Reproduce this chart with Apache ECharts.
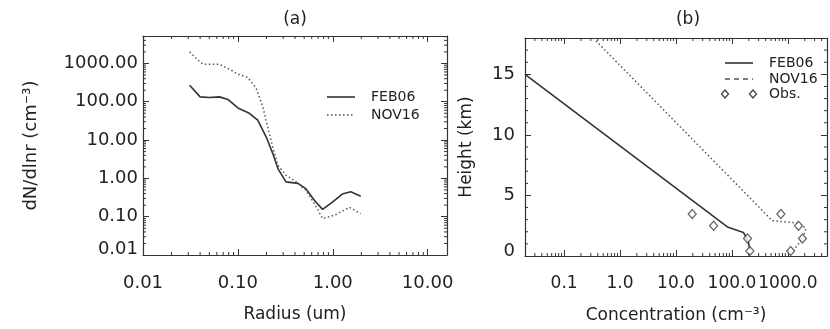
<!DOCTYPE html>
<html><head><meta charset="utf-8">
<script src="https://cdn.jsdelivr.net/npm/echarts@6/dist/echarts.min.js"></script>
<style>html,body{margin:0;padding:0;background:#fff}#c{width:830px;height:329px}</style>
</head><body><div id="c"></div>
<script>
// ---- Panel (a): size distribution ----
const radiusFeb = [0.031,0.040,0.050,0.064,0.0785,0.10,0.132,0.162,0.199,0.233,0.264,0.322,0.43,0.52,0.64,0.78,1.0,1.26,1.55,1.97];
const dndlnrFeb = [270,134,129,134,115,69,50,33,12,4.5,1.8,0.81,0.74,0.54,0.27,0.155,0.245,0.39,0.45,0.34];
const radiusNov = [0.031,0.038,0.043,0.064,0.085,0.10,0.127,0.156,0.183,0.206,0.233,0.264,0.322,0.39,0.52,0.64,0.78,1.05,1.5,1.97];
const dndlnrNov = [2000,1220,950,950,670,525,430,225,74,22,6.6,2.2,1.2,0.9,0.49,0.22,0.089,0.11,0.175,0.12];
// ---- Panel (b): vertical profiles ----
const concFeb = [0.02, 83, 160, 195, 209];
const heightFeb = [15, 2.4, 1.95, 1.25, 0.5];
const concNov = [0.33, 525, 1510, 2100, 1830, 1320, 1120];
const heightNov = [18, 2.92, 2.72, 2.28, 1.4, 0.6, 0.28];
const obsConcFeb = [19.5, 47, 190, 209];
const obsHeightFeb = [3.47, 2.5, 1.45, 0.42];
const obsConcNov = [750, 1550, 1820, 1120];
const obsHeightNov = [3.47, 2.5, 1.45, 0.42];
// ---- Axis labels ----
const xLabelA = 'Radius (um)';
const yLabelA = 'dN/dlnr (cm\u207B\u00B3)';
const xLabelB = 'Concentration (cm\u207B\u00B3)';
const yLabelB = 'Height (km)';
const seriesNames = ['FEB06', 'NOV16', 'Obs.'];

const FONT = 'DejaVu Sans';
const INK = '#333';
const zip = (a, b) => a.map((v, i) => [v, b[i]]);
const isDecade = v => Math.abs(Math.log10(v) - Math.round(Math.log10(v))) < 1e-6;

function logMinor(lo, hi) {
  const out = [];
  for (let e = Math.floor(Math.log10(lo)); e <= Math.ceil(Math.log10(hi)); e++) {
    for (let m = 2; m <= 9; m++) { const v = m * Math.pow(10, e); if (v > lo && v < hi) out.push(v); }
  }
  return out;
}
const A = {xmin: 0.01, xmax: 16, ymin: 0.01, ymax: 5200};
const B = {xmin: 0.02, xmax: 5000, ymin: 0, ymax: 18};

function xTicks(xi, yi, yLo, yHi, vals, len) {
  return {
    type: 'custom', xAxisIndex: xi, yAxisIndex: yi, silent: true, z: 5,
    data: vals.map(v => [v, yLo]), encode: {x: 0, y: 1},
    renderItem: (p, api) => {
      const b = api.coord([api.value(0), yLo]);
      const t = api.coord([api.value(0), yHi]);
      return {type: 'group', children: [
        {type: 'line', shape: {x1: b[0], y1: b[1], x2: b[0], y2: b[1] - len}, style: {stroke: INK, lineWidth: 1}},
        {type: 'line', shape: {x1: t[0], y1: t[1], x2: t[0], y2: t[1] + len}, style: {stroke: INK, lineWidth: 1}}
      ]};
    }
  };
}
function yTicks(xi, yi, xLo, xHi, vals, len) {
  return {
    type: 'custom', xAxisIndex: xi, yAxisIndex: yi, silent: true, z: 5,
    data: vals.map(v => [xLo, v]), encode: {x: 0, y: 1},
    renderItem: (p, api) => {
      const l = api.coord([xLo, api.value(1)]);
      const r = api.coord([xHi, api.value(1)]);
      return {type: 'group', children: [
        {type: 'line', shape: {x1: l[0], y1: l[1], x2: l[0] + len, y2: l[1]}, style: {stroke: INK, lineWidth: 1}},
        {type: 'line', shape: {x1: r[0], y1: r[1], x2: r[0] - len, y2: r[1]}, style: {stroke: INK, lineWidth: 1}}
      ]};
    }
  };
}

const axisLine = {show: true, onZero: false, lineStyle: {color: INK, width: 1.2}};
const tickIn = {show: true, inside: true, length: 6, lineStyle: {color: INK, width: 1}};
const lbl = {color: '#222', fontFamily: FONT, fontSize: 18};
const lblB = {color: '#222', fontFamily: FONT, fontSize: 17};
const nameStyle = {color: '#222', fontFamily: FONT, fontSize: 17};

const option = {
  animation: false,
  backgroundColor: '#fff',
  grid: [
    {left: 143, top: 36, width: 304, height: 219},
    {left: 525, top: 38, width: 314, height: 219}
  ],
  xAxis: [
    {gridIndex: 0, type: 'log', min: A.xmin, max: A.xmax, position: 'bottom',
     axisLine, axisTick: tickIn, splitLine: {show: false},
     axisLabel: Object.assign({margin: 19, formatter: v => isDecade(v) ? v.toFixed(2) : ''}, lbl),
     name: xLabelA, nameLocation: 'middle', nameGap: 51, nameTextStyle: nameStyle},
    {gridIndex: 0, type: 'log', min: A.xmin, max: A.xmax, position: 'top',
     axisLine, axisTick: tickIn, axisLabel: {show: false}, splitLine: {show: false}},
    {gridIndex: 1, type: 'log', min: B.xmin, max: B.xmax, position: 'bottom',
     axisLine, axisTick: tickIn, splitLine: {show: false},
     axisLabel: Object.assign({margin: 19, formatter: v => isDecade(v) ? v.toFixed(1) : ''}, lblB),
     name: xLabelB, nameLocation: 'middle', nameGap: 51, nameTextStyle: nameStyle},
    {gridIndex: 1, type: 'log', min: B.xmin, max: B.xmax, position: 'top',
     axisLine, axisTick: tickIn, axisLabel: {show: false}, splitLine: {show: false}}
  ],
  yAxis: [
    {gridIndex: 0, type: 'log', min: A.ymin, max: A.ymax, position: 'left',
     axisLine, axisTick: tickIn, splitLine: {show: false},
     axisLabel: Object.assign({margin: 5, formatter: v => isDecade(v) ? (Math.abs(v - 0.01) < 1e-9 ? '{lo|0.01}' : v.toFixed(2)) : '',
       rich: {lo: {fontFamily: FONT, fontSize: 18, color: '#222', padding: [0, 0, 12, 0]}}}, lbl),
     name: yLabelA, nameLocation: 'middle', nameGap: 103, nameTextStyle: Object.assign({}, nameStyle, {fontSize: 18})},
    {gridIndex: 0, type: 'log', min: A.ymin, max: A.ymax, position: 'right',
     axisLine, axisTick: tickIn, axisLabel: {show: false}, splitLine: {show: false}},
    {gridIndex: 1, type: 'value', min: B.ymin, max: B.ymax, interval: 5, position: 'left',
     axisLine, axisTick: tickIn, splitLine: {show: false},
     axisLabel: Object.assign({margin: 10, formatter: v => (v % 5 === 0 ? (v === 0 ? '{lo|0}' : String(v)) : ''),
       rich: {lo: {fontFamily: FONT, fontSize: 18, color: '#222', padding: [0, 0, 10, 0]}}}, lbl),
     name: yLabelB, nameLocation: 'middle', nameGap: 50, nameTextStyle: nameStyle},
    {gridIndex: 1, type: 'value', min: B.ymin, max: B.ymax, interval: 5, position: 'right',
     axisLine, axisTick: tickIn, axisLabel: {show: false}, splitLine: {show: false}}
  ],
  series: [
    {name: seriesNames[0], type: 'line', xAxisIndex: 0, yAxisIndex: 0, data: zip(radiusFeb, dndlnrFeb),
     showSymbol: false, lineStyle: {color: '#333', width: 1.6}, z: 3},
    {name: seriesNames[1], type: 'line', xAxisIndex: 0, yAxisIndex: 0, data: zip(radiusNov, dndlnrNov),
     showSymbol: false, lineStyle: {color: '#555', width: 1.5, type: [1.5, 2.5]}, z: 3},
    {name: seriesNames[0], type: 'line', xAxisIndex: 2, yAxisIndex: 2, data: zip(concFeb, heightFeb),
     showSymbol: false, lineStyle: {color: '#333', width: 1.6}, z: 3},
    {name: seriesNames[1], type: 'line', xAxisIndex: 2, yAxisIndex: 2, data: zip(concNov, heightNov),
     showSymbol: false, lineStyle: {color: '#555', width: 1.5, type: [1.5, 2.5]}, z: 3},
    {name: seriesNames[2], type: 'scatter', xAxisIndex: 2, yAxisIndex: 2, data: zip(obsConcFeb, obsHeightFeb),
     symbol: 'diamond', symbolSize: [8, 9], itemStyle: {color: '#fff', borderColor: '#444', borderWidth: 1.3}, z: 4},
    {name: seriesNames[2], type: 'scatter', xAxisIndex: 2, yAxisIndex: 2, data: zip(obsConcNov, obsHeightNov),
     symbol: 'diamond', symbolSize: [8, 9], itemStyle: {color: '#fff', borderColor: '#444', borderWidth: 1.3}, z: 4},
    xTicks(0, 0, A.ymin, A.ymax, logMinor(A.xmin, A.xmax), 3),
    yTicks(0, 0, A.xmin, A.xmax, logMinor(A.ymin, A.ymax), 3),
    xTicks(2, 2, B.ymin, B.ymax, logMinor(B.xmin, B.xmax), 3),
    yTicks(2, 2, B.xmin, B.xmax, [1,2,3,4,6,7,8,9,11,12,13,14,16,17], 3)
  ],
  graphic: [
    {type: 'text', x: 295, y: 20, style: {text: '(a)', fontFamily: FONT, fontSize: 17, fill: '#222', align: 'center', verticalAlign: 'middle'}},
    {type: 'text', x: 688, y: 20, style: {text: '(b)', fontFamily: FONT, fontSize: 17, fill: '#222', align: 'center', verticalAlign: 'middle'}},
    // legend (a)
    {type: 'line', shape: {x1: 327, y1: 97, x2: 355, y2: 97}, style: {stroke: '#333', lineWidth: 1.6}},
    {type: 'line', shape: {x1: 327, y1: 115, x2: 355, y2: 115}, style: {stroke: '#555', lineWidth: 1.5, lineDash: [1.5, 2.5]}},
    {type: 'text', x: 371, y: 97, style: {text: seriesNames[0], fontFamily: FONT, fontSize: 14, fill: '#222', verticalAlign: 'middle'}},
    {type: 'text', x: 371, y: 115, style: {text: seriesNames[1], fontFamily: FONT, fontSize: 14, fill: '#222', verticalAlign: 'middle'}},
    // legend (b)
    {type: 'line', shape: {x1: 725, y1: 63, x2: 753, y2: 63}, style: {stroke: '#333', lineWidth: 1.6}},
    {type: 'line', shape: {x1: 725, y1: 79, x2: 753, y2: 79}, style: {stroke: '#555', lineWidth: 1.5, lineDash: [5, 4]}},
    {type: 'polygon', shape: {points: [[725, 90], [728.5, 94], [725, 98], [721.5, 94]]}, style: {fill: '#fff', stroke: '#444', lineWidth: 1.3}},
    {type: 'polygon', shape: {points: [[753, 90], [756.5, 94], [753, 98], [749.5, 94]]}, style: {fill: '#fff', stroke: '#444', lineWidth: 1.3}},
    {type: 'text', x: 769, y: 63, style: {text: seriesNames[0], fontFamily: FONT, fontSize: 14, fill: '#222', verticalAlign: 'middle'}},
    {type: 'text', x: 769, y: 79, style: {text: seriesNames[1], fontFamily: FONT, fontSize: 14, fill: '#222', verticalAlign: 'middle'}},
    {type: 'text', x: 769, y: 94, style: {text: seriesNames[2], fontFamily: FONT, fontSize: 14, fill: '#222', verticalAlign: 'middle'}}
  ]
};
const chart = echarts.init(document.getElementById('c'), null, {renderer: 'canvas'});
chart.setOption(option);
</script>
</body></html>
